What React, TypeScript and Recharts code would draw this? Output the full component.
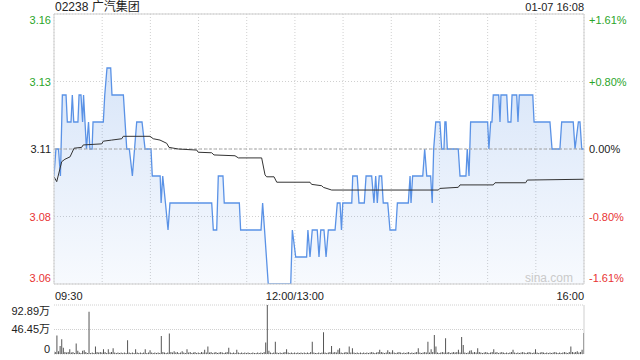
import {
  Area,
  Bar,
  BarChart,
  CartesianGrid,
  ComposedChart,
  Line,
  ReferenceLine,
  XAxis,
  YAxis,
} from 'recharts';

const title = '02238 广汽集团';
const stamp = '01-07 16:08';
const watermark = 'sina.com';

// price axis
const prevClose = 3.11;
const priceTicks = [3.06, 3.085, 3.11, 3.135, 3.16];
const priceLabels = ['3.06', '3.08', '3.11', '3.13', '3.16'];
const pctLabels = ['-1.61%', '-0.80%', '0.00%', '+0.80%', '+1.61%'];

// time axis: minutes after 09:30 (lunch break removed)
const timeTicks = [0, 30, 60, 90, 120, 150, 180, 210, 240, 270, 300, 330];
const labelTimes = [0, 150, 330];
const labelTexts = ['09:30', '12:00/13:00', '16:00'];

// volume axis (万)
const volTicks = [0, 46.45, 92.89];
const volLabels = ['0', '46.45万', '92.89万'];

// price line vertices
const priceMinutes = [
  0, 1.2, 2.8, 4.0, 5.2, 7.5, 8.3, 10.6, 11.4, 12.3,
  14.9, 15.6, 16.8, 17.8, 18.4, 19.3, 20.2, 21.5, 22.4, 23.7,
  24.3, 30.7, 31.6, 33.0, 35.3, 36.1, 43.2, 45.3, 46.9, 48.8,
  51.5, 54.8, 56.7, 60.4, 61.2, 66.1, 66.7, 67.7, 69.4, 71.0,
  72.2, 98.2, 99.2, 101.3, 102.3, 105.2, 106.0, 115.4, 116.2, 128.9,
  129.9, 131.1, 133.4, 147.4, 148.4, 150.5, 157.3, 158.1, 159.4, 160.8,
  163.9, 165.0, 166.1, 168.1, 169.4, 170.8, 175.0, 176.4, 178.1, 179.0,
  179.8, 185.4, 186.0, 188.8, 189.9, 193.2, 194.3, 197.8, 199.2, 200.3,
  201.3, 202.5, 204.0, 205.0, 207.8, 209.2, 212.8, 213.8, 220.6, 221.7,
  222.3, 223.3, 229.6, 230.8, 232.1, 234.5, 235.5, 236.4, 237.7, 240.3,
  241.4, 242.8, 243.4, 244.1, 244.9, 251.7, 252.8, 256.5, 257.3, 258.4,
  259.4, 270.0, 270.8, 271.9, 272.7, 273.5, 276.9, 277.7, 278.3, 281.9,
  282.7, 284.5, 285.2, 288.1, 288.9, 289.7, 298.1, 298.9, 308.8, 310.1,
  315.0, 316.1, 323.3, 324.4, 326.5, 327.5, 328.6, 330,
];
const priceValues = [
  3.10, 3.11, 3.11, 3.10, 3.13, 3.13, 3.12, 3.12, 3.13, 3.12,
  3.12, 3.13, 3.13, 3.12, 3.13, 3.12, 3.11, 3.12, 3.11, 3.11,
  3.12, 3.12, 3.13, 3.14, 3.14, 3.13, 3.13, 3.11, 3.11, 3.10,
  3.12, 3.12, 3.11, 3.11, 3.10, 3.10, 3.09, 3.10, 3.09, 3.08,
  3.09, 3.09, 3.08, 3.08, 3.10, 3.10, 3.09, 3.09, 3.08, 3.08,
  3.09, 3.08, 3.06, 3.06, 3.08, 3.07, 3.07, 3.08, 3.07, 3.08,
  3.08, 3.07, 3.08, 3.08, 3.07, 3.08, 3.08, 3.09, 3.09, 3.08,
  3.09, 3.09, 3.10, 3.10, 3.09, 3.09, 3.10, 3.10, 3.09, 3.10,
  3.09, 3.10, 3.10, 3.09, 3.09, 3.08, 3.08, 3.09, 3.09, 3.10,
  3.09, 3.10, 3.10, 3.11, 3.10, 3.10, 3.09, 3.11, 3.12, 3.12,
  3.11, 3.11, 3.12, 3.12, 3.11, 3.11, 3.10, 3.10, 3.11, 3.10,
  3.12, 3.12, 3.11, 3.12, 3.12, 3.13, 3.13, 3.12, 3.13, 3.13,
  3.12, 3.12, 3.13, 3.13, 3.12, 3.13, 3.13, 3.12, 3.12, 3.11,
  3.11, 3.12, 3.12, 3.11, 3.12, 3.12, 3.11, 3.11,
];

// average price line vertices
const avgMinutes = [
  0, 1.7, 4.8, 6.8, 10.0, 12.5, 17.2, 18.2, 29.7, 30.7,
  35.9, 42.2, 43.1, 59.8, 61.8, 66.0, 70.2, 71.6, 77.4, 88.9,
  89.8, 98.2, 99.6, 112.7, 114.8, 129.3, 131.4, 132.4, 137.0, 138.7,
  159.4, 160.4, 166.7, 167.7, 172.9, 239.3, 240.3, 251.7, 252.8, 273.5,
  274.6, 293.7, 294.7, 330,
];
const avgValues = [
  3.0997, 3.0979, 3.1053, 3.1062, 3.1071, 3.1103, 3.1106, 3.1115, 3.1119, 3.1129,
  3.1133, 3.1138, 3.1147, 3.1147, 3.1138, 3.1133, 3.1121, 3.1106, 3.1100, 3.1096,
  3.1088, 3.1086, 3.1078, 3.1075, 3.1067, 3.1067, 3.1004, 3.0997, 3.0997, 3.0977,
  3.0977, 3.0969, 3.0964, 3.0958, 3.0948, 3.0948, 3.0954, 3.0958, 3.0967, 3.0967,
  3.0975, 3.0975, 3.0985, 3.0988,
];

// volume per minute (万), one row per half hour
const volumeValues = [
  6, 4, 35, 5, 15, 28, 12, 4, 3, 4, 9, 3, 4, 2, 20, 6, 3, 2, 6, 7, 4, 2, 80, 2, 3, 2, 14, 4, 3, 4,
  3, 9, 4, 2, 9, 3, 4, 11, 3, 2, 3, 2, 3, 2, 3, 2, 26, 3, 2, 3, 2, 9, 3, 2, 3, 2, 3, 9, 2, 3,
  7, 3, 2, 3, 2, 3, 2, 34, 4, 3, 2, 3, 39, 4, 3, 5, 3, 4, 2, 3, 5, 3, 2, 9, 3, 4, 2, 3, 4, 2,
  3, 2, 4, 3, 8, 3, 14, 3, 4, 2, 3, 4, 2, 3, 4, 3, 2, 3, 4, 12, 3, 2, 3, 2, 8, 3, 2, 3, 2, 3,
  2, 3, 2, 2, 3, 2, 2, 3, 2, 3, 2, 4, 22, 92.89, 6, 3, 2, 3, 23, 3, 2, 3, 2, 3, 4, 9, 3, 2, 3, 2,
  3, 2, 3, 2, 3, 2, 3, 2, 3, 2, 4, 23, 3, 2, 2, 3, 2, 3, 41, 3, 2, 3, 4, 15, 3, 4, 3, 8, 11, 3,
  2, 3, 4, 3, 14, 3, 11, 3, 2, 3, 2, 3, 2, 3, 2, 3, 2, 3, 4, 3, 2, 3, 4, 8, 4, 3, 2, 3, 7, 4,
  3, 7, 3, 2, 3, 4, 3, 2, 3, 2, 3, 4, 2, 3, 2, 3, 4, 11, 3, 2, 3, 4, 3, 23, 3, 9, 4, 36, 14, 3,
  2, 3, 4, 3, 30, 3, 4, 2, 3, 4, 3, 4, 8, 3, 32, 17, 3, 2, 3, 6, 7, 3, 4, 3, 11, 4, 3, 2, 3, 4,
  3, 2, 3, 4, 9, 3, 4, 2, 3, 4, 3, 2, 3, 2, 3, 4, 8, 3, 2, 3, 2, 3, 4, 3, 2, 3, 4, 3, 2, 3,
  9, 3, 2, 3, 4, 3, 2, 3, 2, 3, 2, 3, 4, 3, 2, 3, 2, 3, 4, 3, 2, 4, 14, 4, 3, 4, 5, 3, 4, 8,
  40,
];

type Row = { t: number; price?: number; avg?: number };

const priceData: Row[] = (() => {
  const rows = new Map<number, Row>();
  priceMinutes.forEach((t, i) => {
    const r = rows.get(t) ?? { t };
    r.price = priceValues[i];
    rows.set(t, r);
  });
  avgMinutes.forEach((t, i) => {
    const r = rows.get(t) ?? { t };
    r.avg = avgValues[i];
    rows.set(t, r);
  });
  return [...rows.values()].sort((a, b) => a.t - b.t);
})();

const volumeData = volumeValues.map((v, i) => ({ t: i, v }));

const GREEN = '#2aa52a';
const RED = '#e83333';
const TEXT = '#222';
const BORDER = '#cfcfcf';
const LINE = '#5a92e6';

const colorFor = (v: number) =>
  v > prevClose + 1e-6 ? GREEN : v < prevClose - 1e-6 ? RED : TEXT;

// shift end labels inward so they stay inside the plot height
const edgeShift = (i: number, n: number) => (i === n - 1 ? 10 : i === 0 ? -2 : 4);

function PriceTick(props: any) {
  const { x, y, payload } = props;
  const i = priceTicks.indexOf(payload.value);
  return (
    <text x={x} y={y + edgeShift(i, priceTicks.length)} textAnchor="end" fontSize={11} fill={colorFor(payload.value)}>
      {priceLabels[i]}
    </text>
  );
}

function PctTick(props: any) {
  const { x, y, payload } = props;
  const i = priceTicks.indexOf(payload.value);
  return (
    <text x={x} y={y + edgeShift(i, priceTicks.length)} textAnchor="start" fontSize={11} fill={colorFor(payload.value)}>
      {pctLabels[i]}
    </text>
  );
}

function TimeTick(props: any) {
  const { x, y, payload } = props;
  const i = labelTimes.indexOf(payload.value);
  if (i < 0) return <g />;
  const anchor = i === 0 ? 'start' : i === labelTimes.length - 1 ? 'end' : 'middle';
  return (
    <text x={x + (i === 0 ? 1 : 0)} y={y + 14} textAnchor={anchor} fontSize={11} fill={TEXT}>
      {labelTexts[i]}
    </text>
  );
}

function VolTick(props: any) {
  const { x, y, payload } = props;
  const i = volTicks.indexOf(payload.value);
  const dy = i === volTicks.length - 1 ? 10 : i === 0 ? -1 : 4;
  return (
    <text x={x} y={y + dy} textAnchor="end" fontSize={11} fill={TEXT}>
      {volLabels[i]}
    </text>
  );
}

export default function App() {
  return (
    <div
      style={{
        position: 'absolute',
        left: 0,
        top: 0,
        width: 640,
        height: 360,
        background: '#fff',
        fontFamily: '"Liberation Sans", Arial, "Noto Sans CJK SC", sans-serif',
        color: TEXT,
      }}
    >
      <div style={{ position: 'absolute', left: 55, top: 0, fontSize: 12, lineHeight: '15px' }}>{title}</div>
      <div style={{ position: 'absolute', right: 56, top: 0, fontSize: 11, lineHeight: '15px' }}>{stamp}</div>

      <div style={{ position: 'absolute', left: 0, top: 0 }}>
        <ComposedChart width={640} height={302} data={priceData} margin={{ top: 14, right: 0, bottom: 0, left: 0 }}>
          <defs>
            <linearGradient id="priceFill" x1="0" y1="0" x2="0" y2="1">
              <stop offset="0%" stopColor="#3d7fe0" stopOpacity={0.2} />
              <stop offset="100%" stopColor="#3d7fe0" stopOpacity={0.04} />
            </linearGradient>
          </defs>
          <CartesianGrid yAxisId="p" stroke="#d0d0d0" strokeDasharray="1 2" />
          <XAxis
            type="number"
            dataKey="t"
            domain={[0, 330]}
            ticks={timeTicks}
            interval={0}
            tickSize={0}
            height={18}
            axisLine={{ stroke: BORDER }}
            tick={(p: any) => <TimeTick {...p} />}
            allowDataOverflow
          />
          <YAxis
            yAxisId="p"
            domain={[3.06, 3.16]}
            ticks={priceTicks}
            interval={0}
            width={54}
            tickSize={0}
            tickMargin={3}
            axisLine={{ stroke: BORDER }}
            tick={(p: any) => <PriceTick {...p} />}
            allowDataOverflow
          />
          <YAxis
            yAxisId="pct"
            orientation="right"
            domain={[3.06, 3.16]}
            ticks={priceTicks}
            interval={0}
            width={56}
            tickSize={0}
            tickMargin={5}
            axisLine={{ stroke: BORDER }}
            tick={(p: any) => <PctTick {...p} />}
            allowDataOverflow
          />
          <Area
            yAxisId="p"
            type="linear"
            dataKey="price"
            connectNulls
            stroke={LINE}
            strokeWidth={1.3}
            fill="url(#priceFill)"
            fillOpacity={1}
            dot={false}
            activeDot={false}
            isAnimationActive={false}
          />
          <ReferenceLine yAxisId="p" y={prevClose} stroke="#a8a8a8" strokeDasharray="3 2" />
          <ReferenceLine yAxisId="p" y={3.16} stroke={BORDER} />
          <Line
            yAxisId="p"
            type="linear"
            dataKey="avg"
            connectNulls
            stroke="#333"
            strokeWidth={1}
            dot={false}
            activeDot={false}
            isAnimationActive={false}
          />
        </ComposedChart>
      </div>

      <div style={{ position: 'absolute', right: 67, top: 271, fontSize: 12, color: '#cacaca' }}>{watermark}</div>

      <div style={{ position: 'absolute', left: 0, top: 300 }}>
        <BarChart width={640} height={60} data={volumeData} margin={{ top: 5, right: 0, bottom: 6, left: 0 }}>
          <CartesianGrid yAxisId="v" vertical={false} stroke="#d0d0d0" strokeDasharray="1 1" />
          <XAxis type="number" dataKey="t" domain={[0, 330]} hide allowDataOverflow />
          <YAxis
            yAxisId="v"
            domain={[0, 92.89]}
            ticks={volTicks}
            interval={0}
            width={54}
            tickSize={0}
            tickMargin={4}
            axisLine={false}
            tick={(p: any) => <VolTick {...p} />}
            allowDataOverflow
          />
          <YAxis yAxisId="vr" orientation="right" width={56} tick={false} tickLine={false} axisLine={{ stroke: BORDER }} />
          <Bar yAxisId="v" dataKey="v" fill="#555" barSize={1} isAnimationActive={false} />
        </BarChart>
      </div>
    </div>
  );
}
